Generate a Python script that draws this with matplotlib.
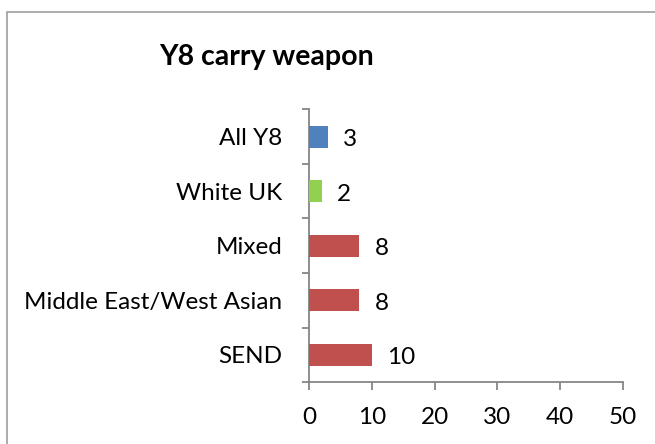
import matplotlib
matplotlib.use("Agg")
import matplotlib.pyplot as plt
from matplotlib.patches import Rectangle

categories = ["All Y8", "White UK", "Mixed", "Middle East/West Asian", "SEND"]
values = [3, 2, 8, 8, 10]
colors = ["#4F81BD", "#92D050", "#C0504D", "#C0504D", "#C0504D"]
x_ticks = [0, 10, 20, 30, 40, 50]
title = "Y8 carry weapon"

plt.rcParams['font.family'] = ['Lato', 'DejaVu Sans']

W, H = 655, 444
fig = plt.figure(figsize=(W / 100, H / 100), dpi=100)

# outer chart frame
fig.patches.append(Rectangle((7 / W, -0.1), 1.2, 1 - 12 / H + 0.1, transform=fig.transFigure,
                             fill=False, edgecolor="#a6a6a6", linewidth=1.3, zorder=0))

ax = fig.add_axes([309 / W, 1 - 382 / H, (623 - 309) / W, (382 - 109.5) / H])

n = len(categories)
ypos = list(range(n))
ax.barh(ypos, values, height=0.4, color=colors, zorder=3)
ax.set_ylim(n - 0.5, -0.5)
ax.set_xlim(0, 50)

fs = 17.5
for y, v in zip(ypos, values):
    ax.annotate(str(v), xy=(v, y), xytext=(11, -2), textcoords="offset points",
                ha="left", va="center", fontsize=fs, color="black")

ax.set_yticks(ypos)
ax.set_yticklabels(categories, fontsize=fs)
ax.set_yticks([i - 0.5 for i in range(n + 1)], minor=True)
ax.tick_params(axis="y", which="major", length=0, pad=19)
ax.tick_params(axis="y", which="minor", length=5, direction="out", color="#868686", width=1.3)

ax.set_xticks(x_ticks)
ax.set_xticklabels([str(t) for t in x_ticks], fontsize=fs)
ax.tick_params(axis="x", which="major", length=6, direction="out", color="#868686", width=1.3, pad=12)

for s in ["top", "right"]:
    ax.spines[s].set_visible(False)
for s in ["left", "bottom"]:
    ax.spines[s].set_color("#868686")
    ax.spines[s].set_linewidth(1.3)

fig.text(267 / W, 1 - 57 / H, title, ha="center", va="center", fontsize=20.5, fontweight="bold")

fig.savefig("out.png", dpi=100)
